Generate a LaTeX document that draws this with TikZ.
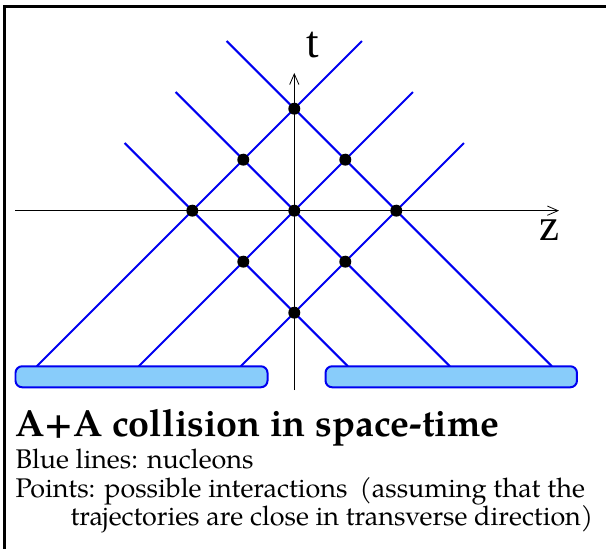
\documentclass[tikz,border=0pt]{standalone}
\usepackage{fontspec}
\setmainfont{TeX Gyre Pagella}
\newfontfamily\axisfont{Liberation Serif}
\usetikzlibrary{arrows.meta, positioning}
\definecolor{nucBlue}{HTML}{0000F0}
\definecolor{nucFill}{HTML}{88CCFA}
\tikzset{
  % thin axes, heavier world lines
  every picture/.append style = {line width=0.75pt},
  axisline/.style  = {-{Straight Barb[length=8pt, width=7pt, line width=0.6pt]}, line width=0.75pt, black},
  nucleon/.style   = {nucBlue, line width=1.5pt},
  statedot/.style  = {circle, fill=black, inner sep=0pt, minimum size=9pt},
  nucleus/.style   = {nucBlue, fill=nucFill, line width=1.5pt, rounded corners=5pt},
  axlbl/.style     = {font=\axisfont\fontsize{34}{36}\selectfont, inner sep=0pt},
  titlelbl/.style  = {font=\bfseries\fontsize{28.4}{32}\selectfont, anchor=base west, inner sep=0pt},
  txt/.style       = {font=\fontsize{20.3}{24}\selectfont, anchor=base west, inner sep=0pt},
}
\begin{document}
\begin{tikzpicture}[x=1.35cm, y=1.35cm]
  \useasboundingbox (-5.771,-6.633) rectangle (6.112,4.131);
  % frame, only its top and left edges are in view
  \draw[line width=2pt] (-5.682,-6.633) -- (-5.682,4.004) -- (6.112,4.004);
  % axes
  \draw[axisline] (-5.467,0) -- (5.19,0);
  \draw[axisline] (0,-3.52) -- (0,2.70);
  \node[axlbl] (zlbl) at (5.01,-0.378) {z};
  \node[axlbl] (tlbl) at (0.367,3.249) {t};
  % the two nuclei
  \draw[nucleus] (-5.467,-3.463) rectangle (-0.525,-3.051);
  \draw[nucleus] (0.612,-3.463) rectangle (5.543,-3.051);
  % nucleons of the left nucleus, moving right
  \draw[nucleon] (-5.05,-3.05) -- (1.327,3.327);
  \draw[nucleon] (-3.05,-3.05) -- (2.327,2.327);
  \draw[nucleon] (-1.05,-3.05) -- (3.327,1.327);
  % nucleons of the right nucleus, moving left
  \draw[nucleon] (5.05,-3.05) -- (-1.327,3.327);
  \draw[nucleon] (3.05,-3.05) -- (-2.327,2.327);
  \draw[nucleon] (1.05,-3.05) -- (-3.327,1.327);
  % crossings
  \node[statedot] (h1) at (0,2) {};
  \node[statedot] (h2) at (-1,1) {};
  \node[statedot] (h3) at (1,1) {};
  \node[statedot] (h4) at (-2,0) {};
  \node[statedot] (h5) at (0,0) {};
  \node[statedot] (h6) at (2,0) {};
  \node[statedot] (h7) at (-1,-1) {};
  \node[statedot] (h8) at (1,-1) {};
  \node[statedot] (h9) at (0,-2) {};
  % caption
  \node[titlelbl] (title) at (-5.476,-4.431) {A+A collision in space-time};
  \node[txt] (line1) at (-5.476,-5.065) {Blue lines: nucleons};
  \node[txt] (line2) at (-5.476,-5.624) {Points: possible interactions\hspace{0.45em}(assuming that the};
  \node[txt] (line3) at (-4.398,-6.182) {trajectories are close in transverse direction)};
\end{tikzpicture}
\end{document}
